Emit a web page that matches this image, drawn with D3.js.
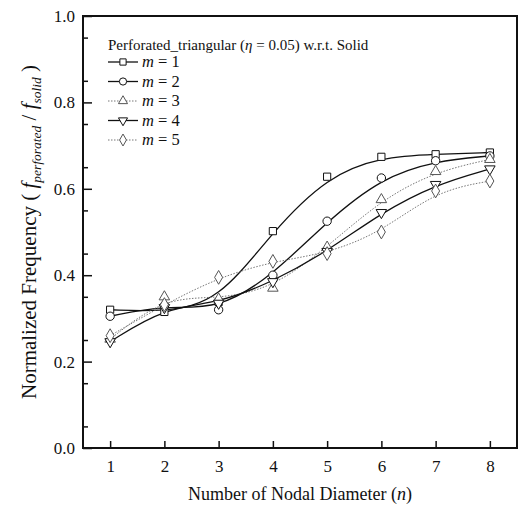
<!DOCTYPE html>
<html>
<head>
<meta charset="utf-8">
<script src="https://cdn.jsdelivr.net/npm/d3@7"></script>
<style>
  body { margin: 0; background: #fff; }
</style>
</head>
<body>
<div id="graph"></div>
<script>
// données
const nodal = [1, 2, 3, 4, 5, 6, 7, 8];
const m1 = [0.320, 0.315, 0.338, 0.502, 0.628, 0.674, 0.680, 0.684];
const m2 = [0.305, 0.330, 0.320, 0.400, 0.525, 0.625, 0.665, 0.676];
const m3 = [0.252, 0.350, 0.345, 0.370, 0.465, 0.575, 0.640, 0.668];
const m4 = [0.246, 0.325, 0.335, 0.385, 0.455, 0.545, 0.610, 0.646];
const m5 = [0.260, 0.332, 0.395, 0.432, 0.450, 0.500, 0.595, 0.618];
const seriesNames = ["1", "2", "3", "4", "5"];
const xTicks = [1, 2, 3, 4, 5, 6, 7, 8];
const yTicks = [0.0, 0.2, 0.4, 0.6, 0.8, 1.0];

const FONT = "Liberation Serif";
const W = 520, H = 513;
const margin = {top: 16, right: 3, bottom: 65, left: 83};
const width = W - margin.left - margin.right;
const height = H - margin.top - margin.bottom;

const svg = d3.select("#graph").append("svg")
  .attr("width", W).attr("height", H)
  .attr("font-family", FONT);
const g = svg.append("g")
  .attr("transform", "translate(" + margin.left + "," + margin.top + ")");

const x = d3.scaleLinear().domain([0.5, 8.5]).range([0, width]);
const y = d3.scaleLinear().domain([0, 1]).range([height, 0]);

// styles des séries
const styles = [
  {data: m1, sym: d3.symbolSquare, size: 52, dash: null, color: "#111", sw: 1.3},
  {data: m2, sym: d3.symbolCircle, size: 55, dash: null, color: "#111", sw: 1.3},
  {data: m3, sym: d3.symbolTriangle, size: 48, dash: "1.5,1.5", color: "#777", sw: 1.0},
  {data: m4, sym: "down", size: 48, dash: null, color: "#111", sw: 1.3},
  {data: m5, sym: d3.symbolDiamond, size: 55, dash: "1.5,1.5", color: "#777", sw: 1.0}
];

function drawSymbol(sel, s, cx, cy, k) {
  const size = s.size * (k || 1);
  const p = sel.append("path")
    .attr("fill", "#fff")
    .attr("stroke", s.color === "#777" ? "#555" : "#111")
    .attr("stroke-width", 1);
  if (s.sym === "down") {
    p.attr("d", d3.symbol(d3.symbolTriangle, size)())
     .attr("transform", "translate(" + cx + "," + cy + ") rotate(180)");
  } else {
    p.attr("d", d3.symbol(s.sym, size)())
     .attr("transform", "translate(" + cx + "," + cy + ")");
  }
}

const line = d3.line()
  .x((d, i) => x(nodal[i]))
  .y(d => y(d))
  .curve(d3.curveBasis);

styles.forEach(s => {
  g.append("path")
    .attr("fill", "none")
    .attr("stroke", s.color)
    .attr("stroke-width", s.sw)
    .attr("stroke-dasharray", s.dash)
    .attr("d", line(s.data));
});
styles.forEach(s => {
  s.data.forEach((v, i) => drawSymbol(g, s, x(nodal[i]), y(v)));
});

// axes (ticks vers l'intérieur)
const xAxis = g.append("g").attr("transform", "translate(0," + height + ")")
  .call(d3.axisBottom(x).tickValues(xTicks).tickSize(-7).tickPadding(12).tickFormat(d3.format("d")));
const yMinor = g.append("g")
  .call(d3.axisLeft(y).tickValues(d3.range(0.05, 1, 0.1)).tickSize(-5).tickFormat(""));
const yAxis = g.append("g")
  .call(d3.axisLeft(y).tickValues(yTicks).tickSize(-9).tickPadding(8).tickFormat(d3.format(".1f")));
[xAxis, yAxis, yMinor].forEach(a => {
  a.attr("font-family", FONT);
  a.select(".domain").remove();
  a.selectAll("line").attr("stroke", "#111").attr("stroke-width", 1.5);
  a.selectAll("text").attr("font-size", 17).attr("fill", "#111").attr("font-family", FONT);
});
g.append("rect")
  .attr("width", width).attr("height", height)
  .attr("fill", "none").attr("stroke", "#111").attr("stroke-width", 2);

// légende
const lg = g.append("g").attr("transform", "translate(25,0)");
lg.append("text").attr("x", 0).attr("y", 34).attr("font-size", 15).attr("fill", "#111")
  .attr("font-family", FONT)
  .html('Perforated_triangular (<tspan font-style="italic">η</tspan> = 0.05) w.r.t. Solid');
styles.forEach((s, i) => {
  const yy = 46 + i * 19.5;
  lg.append("line").attr("x1", 0).attr("x2", 30).attr("y1", yy).attr("y2", yy)
    .attr("stroke", s.color).attr("stroke-width", s.sw).attr("stroke-dasharray", s.dash);
  drawSymbol(lg, s, 15, yy, 0.75);
  lg.append("text").attr("x", 34).attr("y", yy + 5).attr("font-size", 16.5).attr("fill", "#111")
    .attr("font-family", FONT)
    .html('<tspan font-style="italic">m</tspan> = ' + seriesNames[i]);
});

// titres des axes
svg.append("text")
  .attr("x", margin.left + width / 2).attr("y", 500)
  .attr("text-anchor", "middle").attr("font-size", 18).attr("fill", "#111")
  .attr("font-family", FONT)
  .html('Number of Nodal Diameter (<tspan font-style="italic">n</tspan>)');
svg.append("text")
  .attr("transform", "translate(36," + (margin.top + height / 2) + ") rotate(-90)")
  .attr("text-anchor", "middle").attr("font-size", 21).attr("fill", "#111")
  .attr("font-family", FONT)
  .html('Normalized Frequency ( <tspan font-style="italic">f</tspan><tspan font-style="italic" font-size="13.5" dy="5">perforated</tspan><tspan dy="-5"> / </tspan><tspan font-style="italic">f</tspan><tspan font-style="italic" font-size="13.5" dy="5">solid</tspan><tspan dy="-5"> )</tspan>');
</script>
</body>
</html>
